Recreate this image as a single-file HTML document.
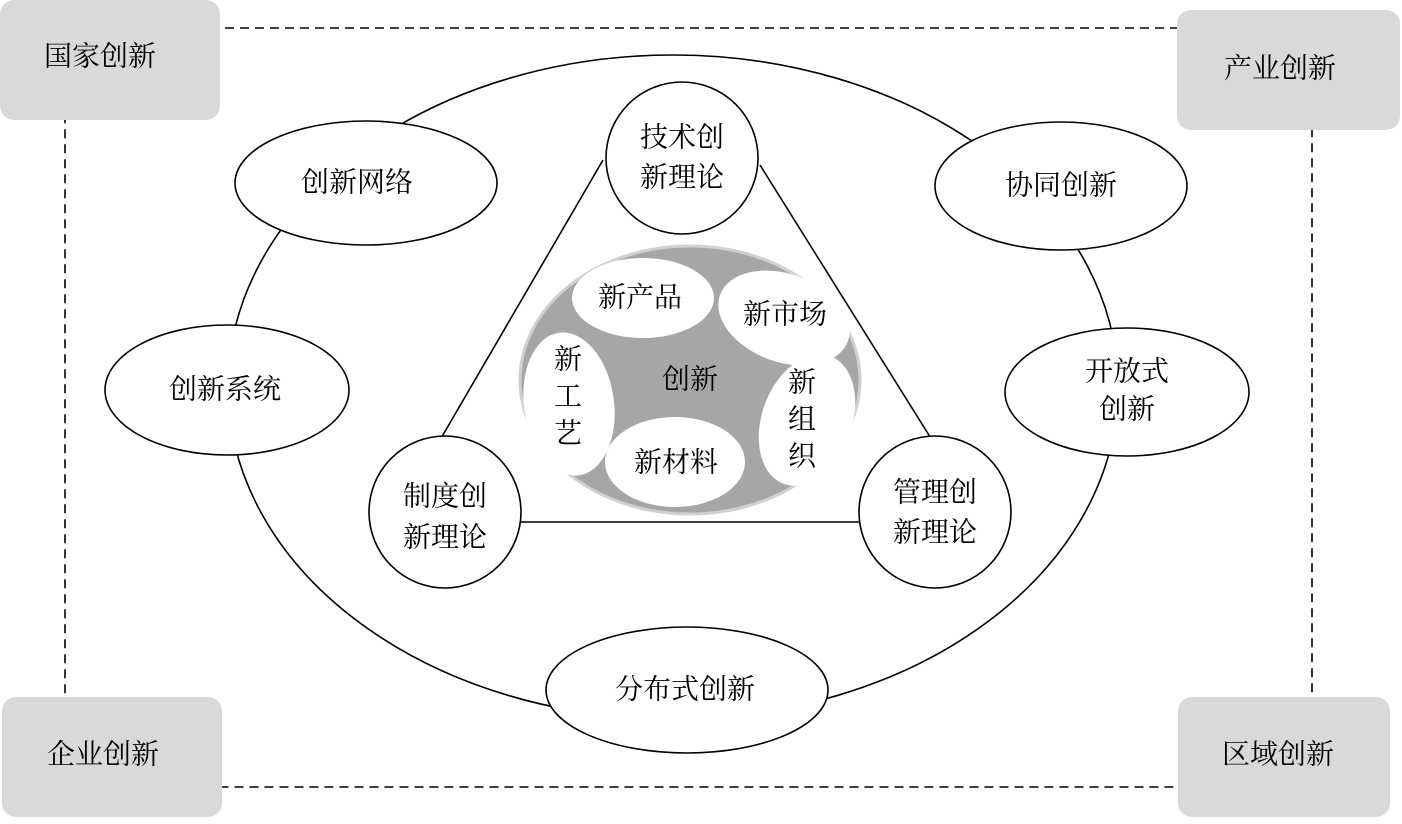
<!DOCTYPE html>
<html><head><meta charset="utf-8"><style>
html,body{margin:0;padding:0;background:#fff}
svg text{font-family:"Liberation Serif","Noto Serif CJK SC","Noto Sans CJK SC",serif;font-size:28px;fill:#000;text-anchor:middle;dominant-baseline:central}
</style></head><body>
<svg width="1402" height="819" viewBox="0 0 1402 819" xmlns="http://www.w3.org/2000/svg">
<rect x="65" y="28" width="1247" height="759" rx="40" fill="none" stroke="#000" stroke-width="1.6" stroke-dasharray="9,6"/>
<rect x="0" y="0" width="220" height="120" rx="14" fill="#d9d9d9"/>
<rect x="1177" y="10" width="223" height="120" rx="14" fill="#d9d9d9"/>
<rect x="2" y="697" width="220" height="120" rx="14" fill="#d9d9d9"/>
<rect x="1178" y="697" width="212" height="120" rx="14" fill="#d9d9d9"/>
<text x="100" y="57">国家创新</text>
<text x="1280" y="69">产业创新</text>
<text x="103" y="755">企业创新</text>
<text x="1278" y="755">区域创新</text>
<ellipse cx="673" cy="387" rx="445" ry="332" fill="none" stroke="#000" stroke-width="1.6"/>
<line x1="603" y1="160" x2="440" y2="440" stroke="#000" stroke-width="1.6"/>
<line x1="760" y1="165" x2="932" y2="440" stroke="#000" stroke-width="1.6"/>
<line x1="521" y1="522" x2="859" y2="522" stroke="#000" stroke-width="1.6"/>
<g fill="#fff" stroke="#000" stroke-width="1.6">
<ellipse cx="366" cy="183" rx="131" ry="62"/>
<ellipse cx="1061" cy="186" rx="126" ry="64"/>
<ellipse cx="227" cy="390" rx="122" ry="65"/>
<ellipse cx="1127" cy="392" rx="122" ry="64"/>
<ellipse cx="687" cy="690" rx="141" ry="63"/>
<circle cx="682" cy="158" r="76"/>
<circle cx="445" cy="512" r="76"/>
<circle cx="935" cy="512" r="76"/>
</g>
<text x="357" y="183">创新网络</text>
<text x="1061" y="186">协同创新</text>
<text x="225" y="390">创新系统</text>
<text x="1127" y="372">开放式</text>
<text x="1127" y="410">创新</text>
<text x="685" y="690">分布式创新</text>
<text x="682" y="138">技术创</text>
<text x="682" y="178">新理论</text>
<text x="445" y="497">制度创</text>
<text x="445" y="538">新理论</text>
<text x="935" y="493">管理创</text>
<text x="935" y="533">新理论</text>
<ellipse cx="690" cy="380" rx="170" ry="134" fill="#a6a6a6" stroke="#d0d0d0" stroke-width="3"/>
<g fill="#fff">
<ellipse cx="643" cy="298" rx="71" ry="40"/>
<ellipse cx="784" cy="318" rx="68" ry="44" transform="rotate(20 784 318)"/>
<ellipse cx="569" cy="404" rx="45" ry="72" transform="rotate(-8 569 404)"/>
<ellipse cx="675" cy="462" rx="70" ry="45"/>
<ellipse cx="807" cy="420" rx="45" ry="68" transform="rotate(20 807 420)"/>
</g>
<text x="640" y="298">新产品</text>
<text x="785" y="315">新市场</text>
<text x="568" y="360">新</text>
<text x="568" y="397">工</text>
<text x="568" y="434">艺</text>
<text x="676" y="463">新材料</text>
<text x="802" y="383">新</text>
<text x="802" y="420">组</text>
<text x="802" y="457">织</text>
<text x="690" y="380">创新</text>
</svg>
</body></html>
